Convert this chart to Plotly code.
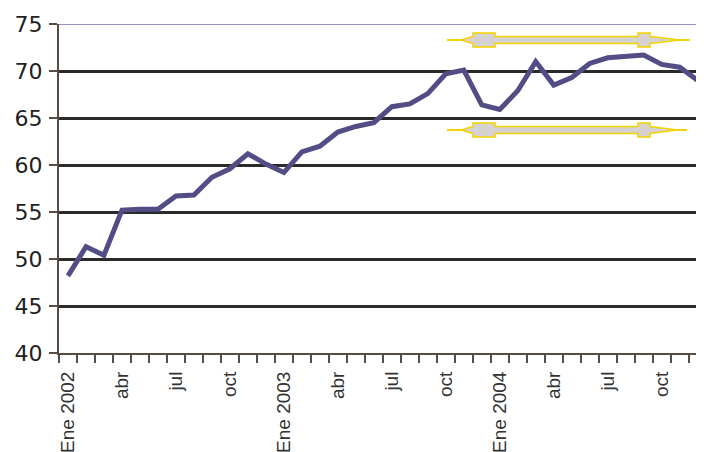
import plotly.graph_objects as go

# ---- data ----
months = [f"{y}-{m:02d}" for y in (2002, 2003, 2004) for m in range(1, 13)]
tick_labels = ["Ene 2002", "", "", "abr", "", "", "jul", "", "", "oct", "", "",
               "Ene 2003", "", "", "abr", "", "", "jul", "", "", "oct", "", "",
               "Ene 2004", "", "", "abr", "", "", "jul", "", "", "oct", "", ""]
values = [48.2, 51.3, 50.4, 55.2, 55.3, 55.3, 56.7, 56.8, 58.7, 59.6, 61.2, 60.1,
          59.2, 61.4, 62.0, 63.5, 64.1, 64.5, 66.2, 66.5, 67.6, 69.7, 70.1, 66.4,
          65.9, 67.9, 71.0, 68.5, 69.3, 70.8, 71.4, 71.6, 71.7, 70.7, 70.4, 69.0]
y_ticks = [40, 45, 50, 55, 60, 65, 70, 75]

# page body has an 8px margin: figure occupies page pixels 8..704 / 8..452
OFF = 8
W, H = 704 - OFF, 452 - OFF
L, R, T, B = 59 - OFF, 0, 24 - OFF, 452 - 353
PW, PH = W - L - R, H - T - B
X_END = -0.5 + PW / 17.99

def px(x):
    return (x - OFF - L) / PW

def py(y):
    return (H - B - (y - OFF)) / PH

fig = go.Figure()
fig.add_trace(go.Scatter(x=months, y=values, mode="lines",
                         line=dict(color="#524d85", width=5),
                         hoverinfo="skip", showlegend=False))

shapes = []
# top line at 75
shapes.append(dict(type="line", xref="paper", yref="y", x0=0, x1=1, y0=75, y1=75,
                   line=dict(color="#7270a6", width=1.5), layer="above"))

def arrow(cy, xl, xr):
    # thin yellow line
    shapes.append(dict(type="line", xref="paper", yref="paper",
                       x0=px(xl), x1=px(xr), y0=py(cy), y1=py(cy),
                       line=dict(color="#f3d400", width=2)))
    pts = [(xl + 14, cy), (473, cy - 3.5), (473, cy - 7), (495, cy - 7), (495, cy - 3.5),
           (638, cy - 3.5), (638, cy - 7), (650, cy - 7), (650, cy - 3.5),
           (xr - 10, cy), (650, cy + 3.5), (650, cy + 7), (638, cy + 7), (638, cy + 3.5),
           (495, cy + 3.5), (495, cy + 7), (473, cy + 7), (473, cy + 3.5)]
    path = "M " + " L ".join(f"{px(a):.5f},{py(b):.5f}" for a, b in pts) + " Z"
    shapes.append(dict(type="path", xref="paper", yref="paper", path=path,
                       fillcolor="#d6d2d2", line=dict(color="#f3d400", width=1.5)))

arrow(40, 447, 690)
arrow(130, 447, 687)

fig.update_layout(
    width=W, height=H,
    margin=dict(l=L, r=R, t=T, b=B, autoexpand=False),
    paper_bgcolor="white", plot_bgcolor="white",
    shapes=shapes,
    xaxis=dict(type="category", categoryorder="array", categoryarray=months,
               range=[-0.5, X_END], tickmode="array", tickvals=months, ticktext=tick_labels,
               tickson="boundaries", ticks="outside", ticklen=8, tickwidth=2,
               tickcolor="#5a4a44", showline=True, linecolor="#5a4a44", linewidth=2,
               showgrid=False, tickangle=-90, zeroline=False, automargin=False,
               ticklabelstandoff=9,
               tickfont=dict(family="Liberation Sans, Arial, sans-serif", size=19, color="#333333")),
    yaxis=dict(range=[40, 75], tickmode="array", tickvals=y_ticks,
               ticks="outside", ticklen=8, tickwidth=2, tickcolor="#5a4a44",
               showline=True, linecolor="#5a4a44", linewidth=2, automargin=False,
               ticklabelstandoff=2,
               showgrid=True, gridcolor="#2a2a2a", gridwidth=2.5, zeroline=False,
               tickfont=dict(family="DejaVu Sans, sans-serif", size=22, color="#222222")),
)

fig.write_html("out.html")
